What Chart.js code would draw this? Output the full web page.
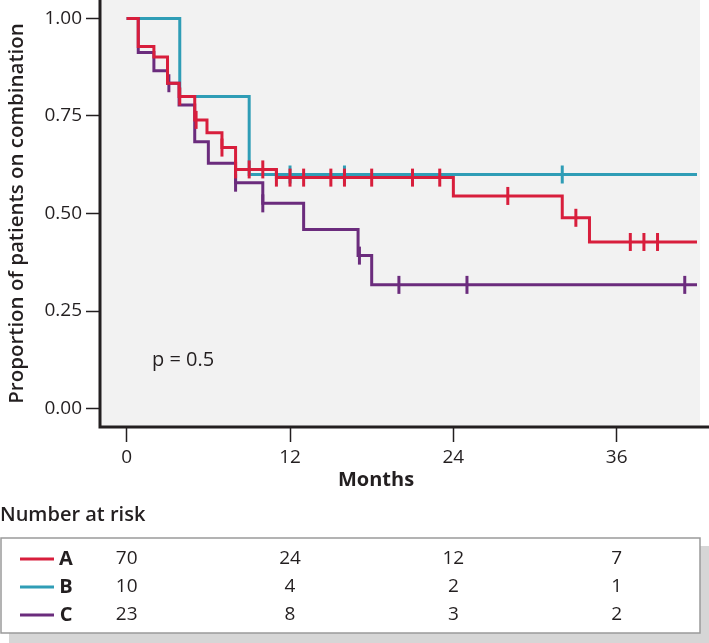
<!DOCTYPE html>
<html>
<head>
<meta charset="utf-8">
<script src="https://cdn.jsdelivr.net/npm/chart.js@4/dist/chart.umd.min.js"></script>
<style>
html,body{margin:0;padding:0;background:#ffffff;}
#wrap{position:relative;width:709px;height:643px;}
canvas{display:block;}
</style>
</head>
<body>
<div id="wrap"><canvas id="c" width="709" height="643"></canvas></div>
<script>
// ---- data ----
const groupNames = ['A', 'B', 'C'];
const xTicks = [0, 12, 24, 36];
const yTicks = [0, 0.25, 0.5, 0.75, 1];

// Kaplan-Meier steps: time (months) and proportion after each step
const timesA = [0, 0.85, 2, 3, 3.85, 5, 5.9, 7, 8, 11, 24, 32, 34, 41.9];
const survA  = [1, 0.928, 0.901, 0.834, 0.800, 0.740, 0.707, 0.669, 0.613, 0.592, 0.545, 0.489, 0.427, 0.427];
const censorA = [3.9, 5.1, 7, 8, 9, 10, 11, 12, 13, 15, 16, 18, 21, 23, 28, 33, 37, 38, 39];

const timesB = [0, 3.9, 9, 41.9];
const survB  = [1, 0.800, 0.600, 0.600];
const censorB = [12, 16, 32];

const timesC = [0, 0.85, 2, 3, 3.85, 5, 6, 8, 10, 13, 17, 18, 41.9];
const survC  = [1, 0.913, 0.866, 0.834, 0.778, 0.684, 0.629, 0.579, 0.526, 0.459, 0.392, 0.317, 0.317];
const censorC = [3.1, 8, 10, 17.1, 20, 25, 41];

const riskA = [70, 24, 12, 7];
const riskB = [10, 4, 2, 1];
const riskC = [23, 8, 3, 2];

const colorA = '#d81e3c';
const colorB = '#2f9db6';
const colorC = '#6b2c7d';
const textColor = '#231f20';
const FONT = "'Open Sans', 'Noto Sans', sans-serif";

// ---- helpers ----
function stepValue(times, surv, t) {
  let v = surv[0];
  for (let i = 0; i < times.length; i++) { if (times[i] <= t) v = surv[i]; }
  return v;
}
function curve(label, times, surv, color, order) {
  return {
    type: 'line', label, order,
    data: times.map((t, i) => ({x: t, y: surv[i]})),
    borderColor: color, borderWidth: 3, stepped: 'before',
    pointRadius: 0, fill: false, borderJoinStyle: 'miter', borderCapStyle: 'butt'
  };
}
function censors(label, cens, times, surv, color, order) {
  return {
    type: 'scatter', label: label + ' censored', order,
    data: cens.map(t => ({x: t, y: stepValue(times, surv, t)})),
    showLine: false, pointStyle: 'line', pointRadius: 9, pointRotation: 90,
    pointBorderWidth: 3, pointBorderColor: color, pointBackgroundColor: color,
    borderColor: color, backgroundColor: color
  };
}

const risks = [riskA, riskB, riskC];
const colors = [colorA, colorB, colorC];

function noPad(s) {
  s.paddingTop = 0; s.paddingBottom = 0; s.paddingLeft = 0; s.paddingRight = 0;
}

const kmPlugin = {
  id: 'km',
  beforeDraw(chart) {
    const {ctx, chartArea: a} = chart;
    ctx.save();
    ctx.fillStyle = '#f2f2f2';
    ctx.fillRect(a.left, 0, a.right - a.left, a.bottom);
    ctx.restore();
  },
  beforeDatasetsDraw(chart) {
    const {ctx, chartArea: a} = chart;
    ctx.save();
    ctx.strokeStyle = textColor;
    ctx.lineWidth = 3;
    ctx.beginPath();
    ctx.moveTo(a.left, 0);
    ctx.lineTo(a.left, a.bottom + 1.5);
    ctx.moveTo(a.left - 1.5, a.bottom);
    ctx.lineTo(chart.width, a.bottom);
    ctx.stroke();
    ctx.restore();
  },
  afterDraw(chart) {
    const {ctx} = chart;
    const xs = chart.scales.x;
    ctx.save();
    ctx.fillStyle = textColor;
    ctx.textBaseline = 'middle';
    // p value
    ctx.font = '20px ' + FONT;
    ctx.textAlign = 'left';
    ctx.fillText('p = 0.5', 152, 360);
    // x title
    ctx.font = 'bold 20px ' + FONT;
    ctx.textAlign = 'center';
    ctx.fillText('Months', 376, 480);
    // number at risk
    ctx.font = '600 20px ' + FONT;
    ctx.textAlign = 'left';
    ctx.fillText('Number at risk', 0, 515);
    // table shadow + box
    ctx.fillStyle = '#d6d6d6';
    ctx.fillRect(9, 546, 700, 97);
    ctx.fillStyle = '#ffffff';
    ctx.fillRect(1, 538, 699, 95);
    ctx.strokeStyle = '#9a9a9a';
    ctx.lineWidth = 1.5;
    ctx.strokeRect(1, 538, 699, 95);
    const rowY = [559, 587, 615];
    for (let r = 0; r < 3; r++) {
      const y = rowY[r];
      ctx.strokeStyle = colors[r];
      ctx.lineWidth = 3;
      ctx.beginPath(); ctx.moveTo(20, y); ctx.lineTo(54, y); ctx.stroke();
      ctx.fillStyle = textColor;
      ctx.font = 'bold 20px ' + FONT;
      ctx.textAlign = 'center';
      ctx.fillText(groupNames[r], 66, y);
      ctx.font = '19px ' + FONT;
      for (let k = 0; k < xTicks.length; k++) {
        ctx.fillText(String(risks[r][k]), xs.getPixelForValue(xTicks[k]), y);
      }
    }
    ctx.restore();
  }
};

new Chart(document.getElementById('c'), {
  data: {
    datasets: [
      curve('B', timesB, survB, colorB, 6),
      censors('B', censorB, timesB, survB, colorB, 5),
      curve('C', timesC, survC, colorC, 4),
      censors('C', censorC, timesC, survC, colorC, 3),
      curve('A', timesA, survA, colorA, 2),
      censors('A', censorA, timesA, survA, colorA, 1)
    ]
  },
  options: {
    responsive: false,
    animation: false,
    devicePixelRatio: 1,
    layout: {autoPadding: false, padding: {left: 0, top: 0, right: 9, bottom: 0}},
    plugins: {legend: {display: false}, tooltip: {enabled: false}},
    scales: {
      x: {
        type: 'linear', position: 'bottom', min: -1.96, max: 42.12,
        afterBuildTicks: s => { s.ticks = xTicks.map(v => ({value: v})); },
        afterFit: s => { s.height = 216; noPad(s); },
        ticks: {color: textColor, font: {family: FONT, size: 19}, padding: 4, maxRotation: 0, autoSkip: false},
        grid: {drawOnChartArea: false, drawTicks: true, tickLength: 15, tickColor: textColor, tickWidth: 1.5},
        border: {display: false}
      },
      y: {
        type: 'linear', position: 'left', min: -0.0474, max: 1.0474,
        afterBuildTicks: s => { s.ticks = yTicks.map(v => ({value: v})); },
        afterFit: s => { s.width = 100; noPad(s); },
        ticks: {color: textColor, font: {family: FONT, size: 19}, padding: 4, callback: v => Number(v).toFixed(2)},
        grid: {drawOnChartArea: false, drawTicks: true, tickLength: 14, tickColor: textColor, tickWidth: 1.5},
        border: {display: false},
        title: {display: true, text: 'Proportion of patients on combination', color: textColor,
                font: {family: FONT, size: 20.5, weight: '600'}, padding: {top: 5, bottom: 0}}
      }
    }
  },
  plugins: [kmPlugin]
});
</script>
</body>
</html>
